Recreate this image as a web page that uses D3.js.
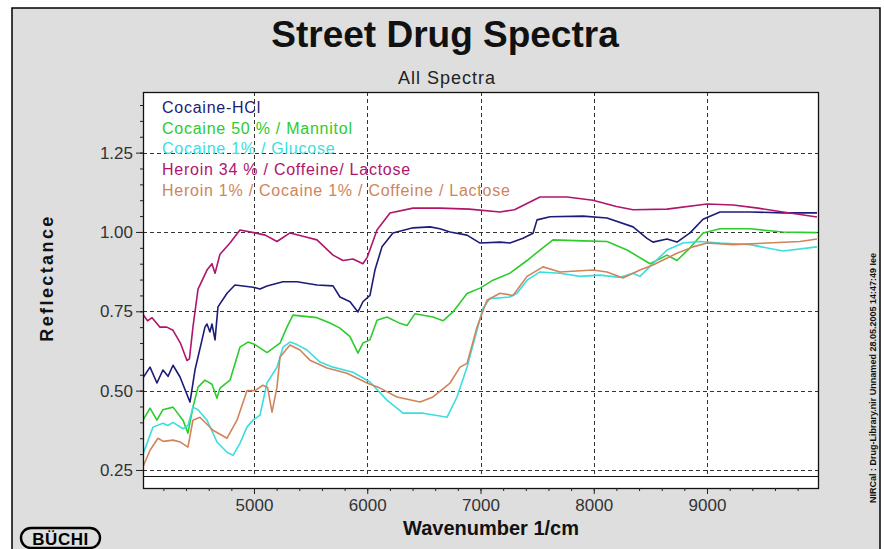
<!DOCTYPE html>
<html><head><meta charset="utf-8">
<script src="https://cdn.jsdelivr.net/npm/d3@7/dist/d3.min.js"></script>
<style>
html,body{margin:0;padding:0;background:#fff;}
svg{display:block;}
text{font-family:"Liberation Sans",Arial,sans-serif;}
</style></head>
<body>
<svg id="chart" width="884" height="549"></svg>
<script>
// ---------- data ----------
const seriesNames = [
  "Cocaine-HCl",
  "Cocaine 50 % / Mannitol",
  "Cocaine 1% / Glucose",
  "Heroin 34 % / Coffeine/ Lactose",
  "Heroin 1% / Cocaine 1% / Coffeine / Lactose"
];
const seriesColors = ["#1c1c78", "#2ccc2c", "#3adede", "#b0146c", "#d0845a"];

const cocaineHCl = [
  [4020,0.54],[4082,0.574],[4143,0.524],[4196,0.565],[4241,0.545],[4285,0.58],[4347,0.543],[4417,0.48],[4435,0.464],
  [4479,0.565],[4541,0.66],[4567,0.70],[4585,0.71],[4611,0.685],[4629,0.71],[4656,0.66],[4682,0.764],[4762,0.807],
  [4832,0.833],[4991,0.826],[5053,0.82],[5115,0.83],[5256,0.843],[5380,0.843],[5556,0.833],[5698,0.83],[5759,0.795],
  [5848,0.78],[5918,0.748],[5962,0.78],[6024,0.80],[6068,0.88],[6130,0.953],[6227,0.997],[6404,1.013],[6554,1.016],
  [6642,1.01],[6731,1.00],[6881,0.99],[6996,0.965],[7172,0.968],[7260,0.965],[7375,0.98],[7464,0.996],[7499,1.038],
  [7614,1.048],[7905,1.05],[8117,1.044],[8347,1.016],[8470,0.98],[8523,0.968],[8647,0.978],[8735,0.968],[8850,0.997],
  [8965,1.04],[9115,1.063],[9380,1.063],[9671,1.06],[9971,1.06]
];
const cocaine50Mannitol = [
  [4020,0.407],[4082,0.445],[4143,0.407],[4196,0.44],[4285,0.448],[4373,0.407],[4417,0.366],[4461,0.448],[4506,0.511],
  [4567,0.533],[4629,0.52],[4673,0.476],[4700,0.508],[4788,0.533],[4876,0.637],[4947,0.653],[5009,0.645],[5115,0.62],
  [5230,0.65],[5291,0.70],[5344,0.738],[5556,0.73],[5671,0.713],[5759,0.697],[5848,0.67],[5918,0.618],[5962,0.65],
  [6024,0.66],[6086,0.722],[6174,0.732],[6289,0.712],[6351,0.705],[6420,0.742],[6581,0.732],[6669,0.72],[6757,0.748],
  [6881,0.806],[6996,0.823],[7110,0.848],[7260,0.87],[7411,0.91],[7525,0.943],[7640,0.975],[7905,0.972],[8117,0.97],
  [8294,0.943],[8497,0.90],[8647,0.927],[8735,0.91],[8850,0.95],[8965,0.997],[9115,1.01],[9380,1.01],[9671,1.0],[9971,0.998]
];
const cocaine1Glucose = [
  [4020,0.30],[4108,0.385],[4196,0.397],[4240,0.39],[4285,0.40],[4373,0.38],[4417,0.39],[4461,0.448],[4506,0.44],
  [4585,0.407],[4673,0.338],[4762,0.306],[4815,0.296],[4876,0.334],[4938,0.385],[4991,0.407],[5053,0.423],[5115,0.524],
  [5203,0.574],[5256,0.637],[5318,0.653],[5380,0.645],[5468,0.628],[5583,0.59],[5698,0.574],[5874,0.558],[6024,0.527],
  [6174,0.47],[6316,0.429],[6492,0.429],[6642,0.42],[6704,0.416],[6792,0.48],[6881,0.574],[6969,0.69],[7022,0.76],
  [7084,0.79],[7260,0.795],[7322,0.807],[7411,0.848],[7525,0.874],[7702,0.87],[7879,0.86],[8055,0.864],[8232,0.857],
  [8347,0.87],[8408,0.86],[8523,0.90],[8647,0.943],[8788,0.965],[8938,0.97],[9115,0.965],[9380,0.96],[9671,0.94],[9971,0.953]
];
const heroin34 = [
  [4020,0.74],[4060,0.72],[4100,0.73],[4170,0.70],[4230,0.70],[4285,0.69],[4350,0.65],[4408,0.595],[4430,0.60],
  [4461,0.70],[4506,0.82],[4585,0.88],[4629,0.90],[4656,0.87],[4700,0.93],[4788,0.965],[4876,1.006],[5009,0.997],
  [5100,0.99],[5203,0.97],[5318,0.997],[5450,0.985],[5556,0.975],[5698,0.927],[5786,0.91],[5874,0.915],[5962,0.90],
  [6000,0.92],[6086,1.006],[6201,1.06],[6404,1.075],[6642,1.075],[6900,1.072],[7172,1.063],[7300,1.07],[7525,1.11],
  [7764,1.11],[7993,1.10],[8200,1.08],[8347,1.07],[8647,1.072],[9000,1.088],[9230,1.085],[9450,1.075],[9671,1.063],[9971,1.047]
];
const heroin1 = [
  [4020,0.26],[4082,0.312],[4152,0.35],[4200,0.34],[4285,0.344],[4350,0.338],[4417,0.322],[4461,0.407],[4523,0.416],
  [4638,0.375],[4762,0.35],[4850,0.407],[4938,0.50],[5009,0.50],[5079,0.517],[5120,0.51],[5159,0.432],[5203,0.511],
  [5230,0.606],[5318,0.644],[5406,0.628],[5494,0.596],[5645,0.571],[5821,0.555],[5998,0.524],[6113,0.508],[6263,0.48],
  [6466,0.464],[6581,0.48],[6731,0.524],[6819,0.574],[6881,0.586],[6969,0.70],[7057,0.785],[7172,0.807],[7287,0.80],
  [7411,0.86],[7552,0.89],[7702,0.874],[7993,0.88],[8117,0.874],[8258,0.855],[8408,0.88],[8523,0.896],[8735,0.933],
  [8876,0.953],[9000,0.965],[9230,0.96],[9530,0.965],[9821,0.97],[9971,0.978]
];
const seriesData = [cocaineHCl, cocaine50Mannitol, cocaine1Glucose, heroin34, heroin1];

const xTickValues = [5000, 6000, 7000, 8000, 9000];
const yTickValues = [0.25, 0.50, 0.75, 1.00, 1.25];
const xDomain = [4020, 9980];
const yDomain = [0.231, 1.441];

// ---------- layout ----------
const svg = d3.select("#chart");
const L = 143, R = 818, T = 92, B = 476, AX = 488;

svg.append("rect").attr("x", 12).attr("y", 8).attr("width", 868).attr("height", 560)
  .attr("fill", "#dedede").attr("stroke", "#000").attr("stroke-width", 1.5);

const x = d3.scaleLinear().domain(xDomain).range([L, R]);
const y = d3.scaleLinear().domain(yDomain).range([B, T]);

// plot background
svg.append("rect").attr("x", L).attr("y", T).attr("width", R - L).attr("height", AX - T)
  .attr("fill", "#fff");

// gridlines
const grid = svg.append("g").attr("stroke", "#333").attr("stroke-width", 1).attr("stroke-dasharray", "4,3");
grid.selectAll(".gx").data(xTickValues).join("line")
  .attr("x1", d => Math.round(x(d)) + 0.5).attr("x2", d => Math.round(x(d)) + 0.5)
  .attr("y1", T).attr("y2", B);
grid.selectAll(".gy").data(yTickValues).join("line")
  .attr("y1", d => Math.round(y(d)) + 0.5).attr("y2", d => Math.round(y(d)) + 0.5)
  .attr("x1", L).attr("x2", R);

// legend
const legend = svg.append("g");
seriesNames.forEach((n, i) => {
  legend.append("text").attr("x", 162).attr("y", 113 + i * 20.7)
    .attr("font-size", 16).attr("letter-spacing", 0.75).attr("fill", seriesColors[i]).text(n);
});

// lines
svg.append("clipPath").attr("id", "clip").append("rect")
  .attr("x", L).attr("y", T).attr("width", R - L).attr("height", B - T);
const line = d3.line().x(d => x(d[0])).y(d => y(d[1]));
const lg = svg.append("g").attr("clip-path", "url(#clip)");
seriesData.forEach((s, i) => {
  lg.append("path").datum(s).attr("d", line).attr("fill", "none")
    .attr("stroke", seriesColors[i]).attr("stroke-width", 1.6).attr("stroke-linejoin", "round");
});

// frame + strip line
svg.append("rect").attr("x", L + 0.5).attr("y", T + 0.5).attr("width", R - L).attr("height", AX - T)
  .attr("fill", "none").attr("stroke", "#111").attr("stroke-width", 1.3);
svg.append("line").attr("x1", L).attr("x2", R).attr("y1", B + 0.5).attr("y2", B + 0.5)
  .attr("stroke", "#111").attr("stroke-width", 1.2);

// axes
const tickFont = g => g.selectAll("text").attr("font-size", 17).attr("fill", "#333")
  .attr("font-family", "'Liberation Sans',Arial,sans-serif");

const yMajor = svg.append("g").attr("transform", `translate(${L},0)`)
  .call(d3.axisLeft(y).tickValues(yTickValues).tickSize(7).tickPadding(3).tickFormat(d3.format(".2f")));
yMajor.select(".domain").remove();
yMajor.call(tickFont);
const yMinor = svg.append("g").attr("transform", `translate(${L},0)`)
  .call(d3.axisLeft(y).tickValues(d3.range(0.25, 1.44, 0.05)).tickSize(3).tickFormat(""));
yMinor.select(".domain").remove();

const xMajor = svg.append("g").attr("transform", `translate(0,${AX})`)
  .call(d3.axisBottom(x).tickValues(xTickValues).tickSize(6).tickPadding(5).tickFormat(d3.format("d")));
xMajor.select(".domain").remove();
xMajor.call(tickFont);
const xMinor = svg.append("g").attr("transform", `translate(0,${AX})`)
  .call(d3.axisBottom(x).tickValues(d3.range(4200, 9990, 200)).tickSize(3).tickFormat(""));
xMinor.select(".domain").remove();
svg.selectAll(".tick line").attr("stroke", "#222");

// titles
svg.append("text").attr("x", 445).attr("y", 47).attr("text-anchor", "middle")
  .attr("font-size", 37).attr("font-weight", "bold").attr("fill", "#111").text("Street Drug Spectra");
svg.append("text").attr("x", 447).attr("y", 84).attr("text-anchor", "middle")
  .attr("font-size", 18).attr("letter-spacing", 1).attr("fill", "#222").text("All Spectra");
svg.append("text").attr("transform", "translate(53,278) rotate(-90)").attr("text-anchor", "middle")
  .attr("font-size", 18).attr("font-weight", "bold").attr("letter-spacing", 2.4).attr("fill", "#111").text("Reflectance");
svg.append("text").attr("x", 491).attr("y", 535).attr("text-anchor", "middle")
  .attr("font-size", 20).attr("font-weight", "bold").attr("fill", "#111").text("Wavenumber 1/cm");
svg.append("text").attr("transform", "translate(876,378) rotate(-90)").attr("text-anchor", "middle")
  .attr("font-size", 9).attr("font-weight", "bold").attr("fill", "#111")
  .text("NIRCal : Drug-Library.nir Unnamed 28.05.2005 14:47:49 Iee");

// logo
svg.append("rect").attr("x", 21).attr("y", 528).attr("width", 79).attr("height", 20).attr("rx", 10)
  .attr("fill", "#dedede").attr("stroke", "#000").attr("stroke-width", 2.4);
svg.append("text").attr("x", 60.5).attr("y", 545).attr("text-anchor", "middle")
  .attr("font-size", 17).attr("font-weight", 900).attr("letter-spacing", 0.5).attr("font-family", "'DejaVu Sans',sans-serif")
  .attr("fill", "#000").text("BÜCHI");
</script>
</body></html>
